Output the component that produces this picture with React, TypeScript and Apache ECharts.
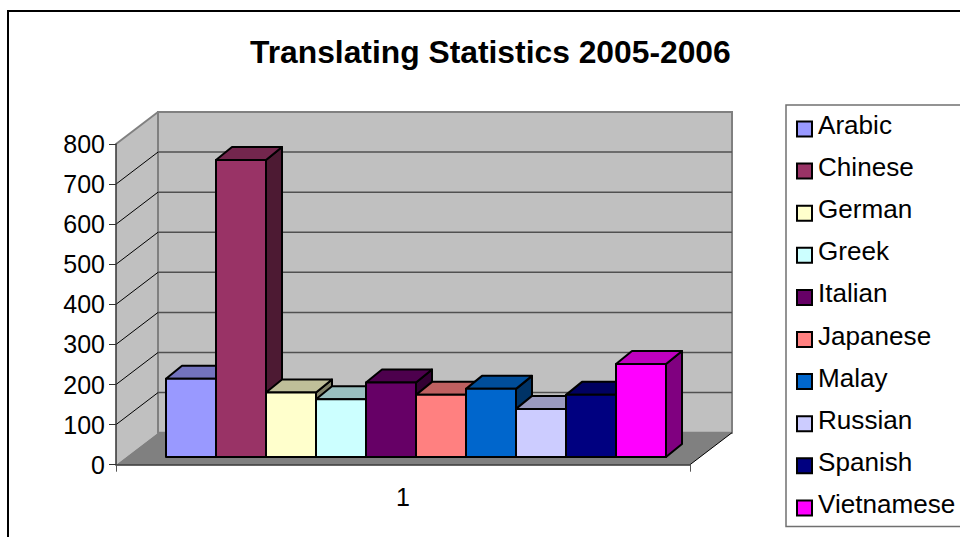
import React, { useEffect, useRef } from "react";
import * as echarts from "echarts";

const categories = ["1"];
const languages = ["Arabic", "Chinese", "German", "Greek", "Italian", "Japanese", "Malay", "Russian", "Spanish", "Vietnamese"];
const values = [195, 741, 161, 144, 186, 155, 170, 120, 155, 232];
const colors = ["#9999FF", "#993366", "#FFFFCC", "#CCFFFF", "#660066", "#FF8080", "#0066CC", "#CCCCFF", "#000080", "#FF00FF"];
const ticks = [0, 100, 200, 300, 400, 500, 600, 700, 800];

const FONT = "'Liberation Sans', Arial, sans-serif";
const WALL_DX = 42;
const WALL_DY = -32;
const BAR_W = 50;
const BAR_DX = 16;
const BAR_DY = -13;
const BAR_BASE_DY = -7.7;
const BARS_SHIFT_X = 13;

function shade(hex: string, k: number) {
  const n = parseInt(hex.slice(1), 16);
  const f = (v: number) => Math.round(v * k);
  return `rgb(${f((n >> 16) & 255)},${f((n >> 8) & 255)},${f(n & 255)})`;
}

function renderWalls(_p: any, api: any) {
  const band = api.size([1, 0])[0];
  const cx = api.coord([0, 0])[0];
  const l = cx - band / 2;
  const r = cx + band / 2;
  const y0 = api.coord([0, 0])[1];
  const yTop = api.coord([0, ticks[ticks.length - 1]])[1];
  const children: any[] = [
    { type: "polygon", shape: { points: [[l, yTop], [l + WALL_DX, yTop + WALL_DY], [l + WALL_DX, y0 + WALL_DY], [l, y0]] }, style: { fill: "#C0C0C0", stroke: null } },
    { type: "rect", shape: { x: l + WALL_DX, y: yTop + WALL_DY, width: band, height: y0 - yTop }, style: { fill: "#C0C0C0", stroke: "#808080", lineWidth: 2 } },
    { type: "polygon", shape: { points: [[l, y0], [l + WALL_DX, y0 + WALL_DY], [r + WALL_DX, y0 + WALL_DY], [r, y0]] }, style: { fill: "#808080", stroke: null } },
    { type: "line", shape: { x1: l, y1: yTop, x2: l + WALL_DX, y2: yTop + WALL_DY }, style: { stroke: "#808080", lineWidth: 2 } },
    { type: "line", shape: { x1: r, y1: y0, x2: r + WALL_DX, y2: y0 + WALL_DY }, style: { stroke: "#000", lineWidth: 1 } },
  ];
  ticks.slice(1, -1).forEach((t) => {
    const y = api.coord([0, t])[1];
    children.push({ type: "line", shape: { x1: l, y1: y, x2: l + WALL_DX, y2: y + WALL_DY }, style: { stroke: "#000", lineWidth: 1 } });
    children.push({ type: "line", shape: { x1: l + WALL_DX, y1: y + WALL_DY, x2: r + WALL_DX, y2: y + WALL_DY }, style: { stroke: "#505050", lineWidth: 1.5 } });
  });
  return { type: "group", children };
}

function makeBarRenderer(index: number, color: string) {
  return (_p: any, api: any) => {
    const base = api.coord([0, 0]);
    const top = api.coord([0, api.value(1)]);
    const x = base[0] + BARS_SHIFT_X + (index - languages.length / 2) * BAR_W;
    const yb = base[1] + BAR_BASE_DY;
    const yt = top[1] + BAR_BASE_DY;
    const line = { stroke: "#000", lineWidth: 2, lineJoin: "round" };
    return {
      type: "group",
      children: [
        { type: "polygon", shape: { points: [[x + BAR_W, yt], [x + BAR_W + BAR_DX, yt + BAR_DY], [x + BAR_W + BAR_DX, yb + BAR_DY], [x + BAR_W, yb]] }, style: { fill: shade(color, 0.5), ...line } },
        { type: "polygon", shape: { points: [[x, yt], [x + BAR_DX, yt + BAR_DY], [x + BAR_W + BAR_DX, yt + BAR_DY], [x + BAR_W, yt]] }, style: { fill: shade(color, 0.75), ...line } },
        { type: "rect", shape: { x, y: yt, width: BAR_W, height: yb - yt }, style: { fill: color, ...line } },
      ],
    };
  };
}

export default function App() {
  const ref = useRef<HTMLDivElement>(null);
  useEffect(() => {
    document.body.style.margin = "0";
    const chart = echarts.init(ref.current!, undefined, { renderer: "svg" });
    chart.setOption({
      animation: false,
      backgroundColor: "#fff",
      textStyle: { fontFamily: FONT },
      title: {
        text: "Translating Statistics 2005-2006",
        left: 250,
        top: 36,
        padding: 0,
        textStyle: { fontFamily: FONT, fontSize: 31.8, fontWeight: "bold", color: "#000" },
      },
      grid: { left: 116, right: 270, top: 144, bottom: 72.3, containLabel: false },
      xAxis: {
        type: "category",
        data: categories,
        z: 5,
        axisLine: { lineStyle: { color: "#333", width: 1.5 } },
        axisTick: { show: true, length: 7, lineStyle: { color: "#555" } },
        axisLabel: { fontSize: 25, color: "#000", fontFamily: FONT, margin: 20 },
      },
      yAxis: {
        type: "value",
        min: 0,
        max: 800,
        interval: 100,
        z: 5,
        axisLine: { show: true, lineStyle: { color: "#333", width: 1.5 } },
        axisTick: { show: true, length: 7, lineStyle: { color: "#333" } },
        splitLine: { show: false },
        axisLabel: { fontSize: 25, color: "#000", fontFamily: FONT, margin: 11 },
      },
      legend: {
        orient: "vertical",
        left: 796,
        top: 112,
        padding: 0,
        itemWidth: 15,
        itemHeight: 15,
        itemGap: 16.1,
        icon: "rect",
        selectedMode: false,
        itemStyle: { borderColor: "#000", borderWidth: 2 },
        formatter: (name: string) => `{a|${name}}`,
        textStyle: {
          fontSize: 26.1,
          color: "#000",
          fontFamily: FONT,
          rich: { a: { fontSize: 26.1, color: "#000", fontFamily: FONT, padding: [0, 0, 8, 1], height: 26 } },
        },
        data: languages,
      },
      graphic: [
        { type: "polyline", shape: { points: [[8, 537], [8, 11], [960, 11]] }, style: { fill: "none", stroke: "#000", lineWidth: 2 } },
        { type: "polyline", z: -1, shape: { points: [[960, 105], [786, 105], [786, 526.5], [960, 526.5]] }, style: { fill: "none", stroke: "#707070", lineWidth: 1.5 } },
      ],
      series: [
        {
          type: "custom",
          name: "walls",
          silent: true,
          z: 1,
          renderItem: renderWalls,
          data: [[0, 0]],
        },
        ...languages.map((name, i) => ({
          type: "custom",
          name,
          z: 2,
          silent: true,
          itemStyle: { color: colors[i] },
          renderItem: makeBarRenderer(i, colors[i]),
          encode: { x: 0, y: 1 },
          data: [[0, values[i]]],
        })),
      ],
    });
    return () => chart.dispose();
  }, []);
  return <div ref={ref} style={{ width: 960, height: 537 }} />;
}
